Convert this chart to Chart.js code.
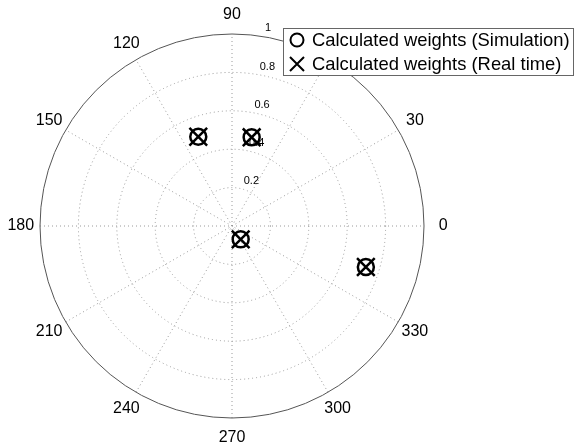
<!DOCTYPE html>
<html>
<head>
<meta charset="utf-8">
<script src="https://cdn.jsdelivr.net/npm/chart.js@4.4.0/dist/chart.umd.min.js"></script>
<style>
  html, body { margin: 0; padding: 0; background: #fff; }
  #wrap { width: 575px; height: 446px; }
</style>
</head>
<body>
<div id="wrap"><canvas id="c" width="575" height="446"></canvas></div>
<script>
    'use strict';

    // polar data (angle in degrees, radius)
    var simAngles = [110.7, 77.5, 303, 343];
    var simRadii = [0.497, 0.473, 0.083, 0.729];
    var realAngles = [110.7, 77.5, 303, 343];
    var realRadii = [0.497, 0.473, 0.083, 0.729];

    var ringTicks = [0.2, 0.4, 0.6, 0.8, 1];
    var spokeAngles = [0, 30, 60, 90, 120, 150];
    var angleLabels = ['0', '30', '60', '90', '120', '150', '180', '210', '240', '270', '300', '330'];
    var seriesLabels = ['Calculated weights (Simulation)', 'Calculated weights (Real time)'];

    var FONT = '"Liberation Sans", Arial, sans-serif';

    function toXY(angles, radii) {
        return angles.map(function(a, i) {
            var t = a * Math.PI / 180;
            return { x: radii[i] * Math.cos(t), y: radii[i] * Math.sin(t) };
        });
    }

    var polarGrid = {
        id: 'polarGrid',
        beforeDatasetsDraw: function(chart) {
            var ctx = chart.ctx;
            var xs = chart.scales.x, ys = chart.scales.y;
            var cx = xs.getPixelForValue(0), cy = ys.getPixelForValue(0);
            var unit = xs.getPixelForValue(1) - cx;
            var rmax = ringTicks[ringTicks.length - 1];

            ctx.save();
            // dotted rings
            ctx.strokeStyle = '#9a9a9a';
            ctx.lineWidth = 1;
            ctx.setLineDash([1, 3]);
            ringTicks.slice(0, -1).forEach(function(r) {
                ctx.beginPath();
                ctx.arc(cx, cy, r * unit, 0, Math.PI * 2);
                ctx.stroke();
            });
            // dotted spokes
            spokeAngles.forEach(function(a) {
                var t = a * Math.PI / 180;
                var dx = Math.cos(t) * rmax * unit, dy = Math.sin(t) * rmax * unit;
                ctx.beginPath();
                ctx.moveTo(cx - dx, cy + dy);
                ctx.lineTo(cx + dx, cy - dy);
                ctx.stroke();
            });
            // outer circle
            ctx.setLineDash([]);
            ctx.strokeStyle = '#555';
            ctx.beginPath();
            ctx.arc(cx, cy, rmax * unit, 0, Math.PI * 2);
            ctx.stroke();

            // angle labels
            ctx.fillStyle = '#000';
            ctx.font = '16px ' + FONT;
            ctx.textAlign = 'center';
            ctx.textBaseline = 'middle';
            angleLabels.forEach(function(lab, i) {
                var t = i * 30 * Math.PI / 180;
                ctx.fillText(lab, cx + Math.cos(t) * 1.1 * rmax * unit, cy - Math.sin(t) * 1.1 * rmax * unit);
            });

            // ring labels at 82 degrees
            ctx.font = '11px ' + FONT;
            ctx.textAlign = 'left';
            ctx.textBaseline = 'bottom';
            var c82 = Math.cos(82 * Math.PI / 180), s82 = Math.sin(82 * Math.PI / 180);
            ringTicks.forEach(function(r) {
                var rr = (r + 0.2 / 20) * unit;
                ctx.fillText('  ' + r, cx + rr * c82, cy - rr * s82);
            });
            ctx.restore();
        },
        afterDraw: function(chart) {
            var ctx = chart.ctx;
            ctx.save();
            ctx.fillStyle = '#fff';
            ctx.fillRect(283.5, 28.5, 290, 47);
            ctx.strokeStyle = '#666';
            ctx.lineWidth = 1;
            ctx.strokeRect(283.5, 28.5, 290, 47);

            ctx.strokeStyle = '#000';
            ctx.lineWidth = 2;
            ctx.beginPath();
            ctx.arc(297, 40, 6.5, 0, Math.PI * 2);
            ctx.stroke();
            ctx.beginPath();
            ctx.moveTo(290, 57); ctx.lineTo(304, 71);
            ctx.moveTo(304, 57); ctx.lineTo(290, 71);
            ctx.stroke();

            ctx.fillStyle = '#000';
            ctx.font = '18.4px ' + FONT;
            ctx.textAlign = 'left';
            ctx.textBaseline = 'middle';
            ctx.fillText(seriesLabels[0], 312, 41);
            ctx.fillText(seriesLabels[1], 312, 65);
            ctx.restore();
        }
    };

    var ctx = document.getElementById('c').getContext('2d');
    new Chart(ctx, {
        type: 'scatter',
        data: {
            datasets: [{
                label: seriesLabels[0],
                data: toXY(simAngles, simRadii),
                pointStyle: 'circle',
                pointRadius: 8,
                borderColor: '#000',
                backgroundColor: 'rgba(0,0,0,0)',
                borderWidth: 2.5
            }, {
                label: seriesLabels[1],
                data: toXY(realAngles, realRadii),
                pointStyle: 'crossRot',
                pointRadius: 12.5,
                borderColor: '#000',
                backgroundColor: '#000',
                borderWidth: 2.5
            }]
        },
        options: {
            responsive: false,
            animation: false,
            layout: { padding: 0, autoPadding: false },
            plugins: {
                legend: { display: false },
                tooltip: { enabled: false }
            },
            scales: {
                x: { display: false, min: -232 / 192, max: 343 / 192 },
                y: { display: false, min: -220 / 192, max: 226 / 192 }
            }
        },
        plugins: [polarGrid]
    });
</script>
</body>
</html>
